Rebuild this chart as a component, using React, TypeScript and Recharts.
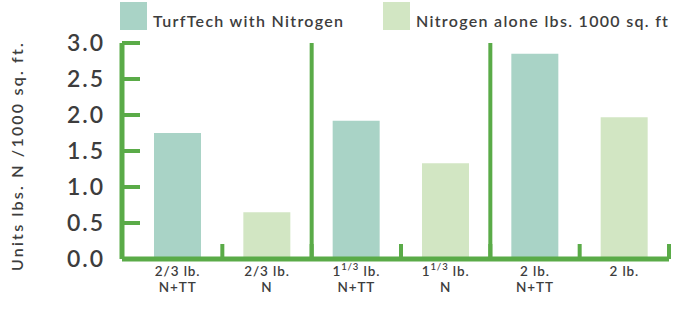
import { Bar, BarChart, Cell, ReferenceLine, XAxis, YAxis } from 'recharts'

const categories = ['2/3 lb. N+TT', '2/3 lb. N', '1 1/3 lb. N+TT', '1 1/3 lb. N', '2 lb. N+TT', '2 lb.']
const labelWhole = ['', '', '1', '1', '', '']
const labelSup = ['', '', '1/3', '1/3', '', '']
const labelMain = ['2/3 lb.', '2/3 lb.', ' lb.', ' lb.', '2 lb.', '2 lb.']
const labelSub = ['N+TT', 'N', 'N+TT', 'N', 'N+TT', '']
const values = [1.75, 0.65, 1.92, 1.33, 2.85, 1.97]
const seriesOf = [0, 1, 0, 1, 0, 1]

const seriesNames = ['TurfTech with Nitrogen', 'Nitrogen alone lbs. 1000 sq. ft']
const seriesColors = ['#a9d3c6', '#d2e6c3']

const yTicks = [0, 0.5, 1, 1.5, 2, 2.5, 3]
const boundaryTicks = [1, 2, 3, 4, 5, 6]
const separators = [2, 4]

const GREEN = '#5aab48'
const TEXT = '#3d3d3d'
const FONT = 'Lato, "DejaVu Sans", sans-serif'

const data = categories.map((name, i) => ({ name, idx: i, value: values[i] }))

function CategoryTick({ x, y, payload }: any) {
  const i = payload.index
  const hasWhole = !!labelWhole[i]
  return (
    <text x={x} y={y} textAnchor="middle" fill={TEXT} fontSize={13.5} fontWeight={600} fontFamily={FONT} letterSpacing={0.9}>
      {hasWhole ? (
        <>
          <tspan x={x} dy={16}>
            {labelWhole[i]}
          </tspan>
          <tspan fontSize={9.5} dy={-6}>
            {labelSup[i]}
          </tspan>
          <tspan dy={6}>{labelMain[i]}</tspan>
        </>
      ) : (
        <tspan x={x} dy={16}>
          {labelMain[i]}
        </tspan>
      )}
      <tspan x={x} dy={16}>
        {labelSub[i]}
      </tspan>
    </text>
  )
}

export default function App() {
  return (
    <div style={{ position: 'absolute', left: 0, top: 0, width: 683, height: 313, background: '#fff' }}>
      <BarChart
        width={683}
        height={313}
        data={data}
        margin={{ top: 43, right: 14, bottom: 13, left: 62 }}
        style={{ position: 'absolute', left: 0, top: 0 }}
      >
        <XAxis
          xAxisId="a"
          type="number"
          dataKey="idx"
          domain={[0, 6]}
          ticks={boundaryTicks}
          padding={{ left: 11, right: 0 }}
          height={1}
          tickSize={-15}
          tickFormatter={() => ''}
          axisLine={{ stroke: GREEN, strokeWidth: 5 }}
          tickLine={{ stroke: GREEN, strokeWidth: 4 }}
          allowDataOverflow
        />
        <XAxis
          xAxisId="b"
          dataKey="name"
          padding={{ left: 11, right: 0 }}
          height={40}
          axisLine={false}
          tickLine={false}
          tickSize={0}
          tickMargin={0}
          interval={0}
          tick={<CategoryTick />}
        />
        <YAxis
          width={60}
          domain={[0, 3]}
          ticks={yTicks}
          tickFormatter={(v: number) => v.toFixed(1)}
          tickSize={-18}
          tickMargin={35}
          axisLine={{ stroke: GREEN, strokeWidth: 5 }}
          tickLine={{ stroke: GREEN, strokeWidth: 4 }}
          tick={{ fill: TEXT, fontSize: 23, fontWeight: 600, fontFamily: FONT, letterSpacing: 2 }}
        />
        {separators.map((s) => (
          <ReferenceLine key={s} xAxisId="a" x={s} stroke={GREEN} strokeWidth={4} />
        ))}
        <Bar dataKey="value" xAxisId="b" barSize={47} isAnimationActive={false}>
          {data.map((d, i) => (
            <Cell key={d.name} fill={seriesColors[seriesOf[i]]} />
          ))}
        </Bar>
      </BarChart>
      <div
        style={{
          position: 'absolute',
          left: 120,
          top: 2,
          display: 'flex',
          fontFamily: FONT,
          fontSize: 16,
          fontWeight: 600,
          letterSpacing: 1.3,
          color: TEXT,
        }}
      >
        {seriesNames.map((s, i) => (
          <div key={s} style={{ display: 'flex', alignItems: 'flex-end', width: i === 0 ? 263 : 'auto' }}>
            <div style={{ width: 27, height: 28, background: seriesColors[i], marginRight: 6 }} />
            <span style={{ lineHeight: '18px' }}>{s}</span>
          </div>
        ))}
      </div>
      <div
        style={{
          position: 'absolute',
          left: 16,
          top: 156,
          transform: 'translate(-50%, -50%) rotate(-90deg)',
          whiteSpace: 'nowrap',
          fontFamily: FONT,
          fontSize: 16,
          fontWeight: 600,
          letterSpacing: 2.2,
          color: TEXT,
        }}
      >
        Units lbs. N /1000 sq. ft.
      </div>
    </div>
  )
}
